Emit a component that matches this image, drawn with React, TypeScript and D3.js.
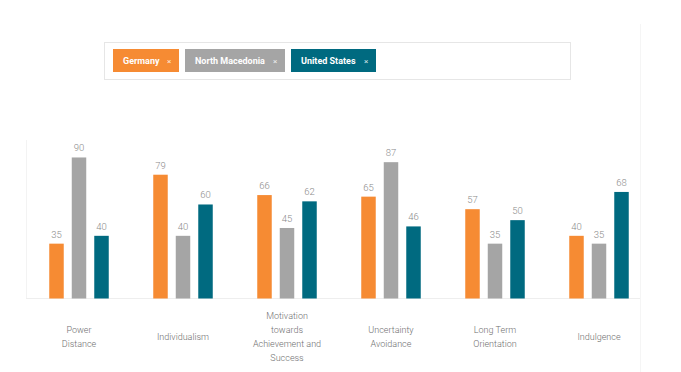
import React from "react";
import * as d3 from "d3";

const categories: string[][] = [
  ["Power", "Distance"],
  ["Individualism"],
  ["Motivation", "towards", "Achievement and", "Success"],
  ["Uncertainty", "Avoidance"],
  ["Long Term", "Orientation"],
  ["Indulgence"],
];
const seriesNames = ["Germany", "North Macedonia", "United States"];
const germany = [35, 79, 66, 65, 57, 40];
const northMacedonia = [90, 40, 45, 87, 35, 35];
const unitedStates = [40, 60, 62, 46, 50, 68];
const colors = ["#F68B33", "#A5A5A5", "#006A80"];

const W = 681;
const H = 372;

export default function App() {
  const series = [germany, northMacedonia, unitedStates];
  const x = d3
    .scaleBand<number>()
    .domain(d3.range(categories.length))
    .range([27, 651])
    .paddingInner(0)
    .paddingOuter(0);
  const groupW = 59.5;
  const inner = d3
    .scaleBand<number>()
    .domain(d3.range(seriesNames.length))
    .range([0, groupW])
    .paddingInner(0.356)
    .paddingOuter(0);
  const y = d3.scaleLinear().domain([0, 100]).range([298.5, 141.8]);
  const font = "Roboto, 'DejaVu Sans', sans-serif";

  const chipX = [113, 185, 291];
  const chipW = [66, 100, 85];

  return (
    <svg
      width={W}
      height={H}
      style={{ position: "absolute", left: 0, top: 0, background: "#fff" }}
      fontFamily={font}
    >
      {/* faint frame lines */}
      <line x1={26.5} x2={26.5} y1={140} y2={298} stroke="#f3f3f3" />
      <line x1={640.5} x2={640.5} y1={24} y2={372} stroke="#f5f5f5" />
      {/* legend */}
      <rect x={104.5} y={42.5} width={466} height={37} fill="#fff" stroke="#e6e6e6" />
      {seriesNames.map((s, i) => (
        <g key={s}>
          <rect x={chipX[i]} y={49} width={chipW[i]} height={23} fill={colors[i]} />
          <text
            x={chipX[i] + 10}
            y={64}
            fill="#fff"
            fontSize={9}
            fontWeight={700}
          >
            {s}
          </text>
          <text
            x={chipX[i] + chipW[i] - 12}
            y={64}
            fill="#fff"
            fontSize={8}
            fontWeight={400}
            opacity={0.8}
          >
            ×
          </text>
        </g>
      ))}
      {/* baseline */}
      <line x1={26} x2={640} y1={298.5} y2={298.5} stroke="#eeeeee" />
      {/* bars */}
      {categories.map((c, ci) => (
        <g key={ci} transform={`translate(${x(ci)! + x.bandwidth() / 2 - groupW / 2},0)`}>
          {series.map((vals, si) => {
            const v = vals[ci];
            const bx = inner(si)!;
            return (
              <g key={si}>
                <rect
                  x={bx}
                  y={y(v)}
                  width={inner.bandwidth()}
                  height={y(0) - y(v)}
                  fill={colors[si]}
                />
                <text
                  x={bx + inner.bandwidth() / 2}
                  y={y(v) - 6}
                  textAnchor="middle"
                  fontSize={9.5}
                  fill="#8a8a8a"
                  fontWeight={300}
                >
                  {v}
                </text>
              </g>
            );
          })}
        </g>
      ))}
      {/* category labels */}
      {categories.map((lines, ci) => {
        const cx = x(ci)! + x.bandwidth() / 2;
        const lh = 14;
        const startY = 337 - ((lines.length - 1) * lh) / 2 + 3;
        return (
          <text key={ci} textAnchor="middle" fontSize={9} fill="#707070" fontWeight={300}>
            {lines.map((l, li) => (
              <tspan key={li} x={cx} y={startY + li * lh}>
                {l}
              </tspan>
            ))}
          </text>
        );
      })}
    </svg>
  );
}
